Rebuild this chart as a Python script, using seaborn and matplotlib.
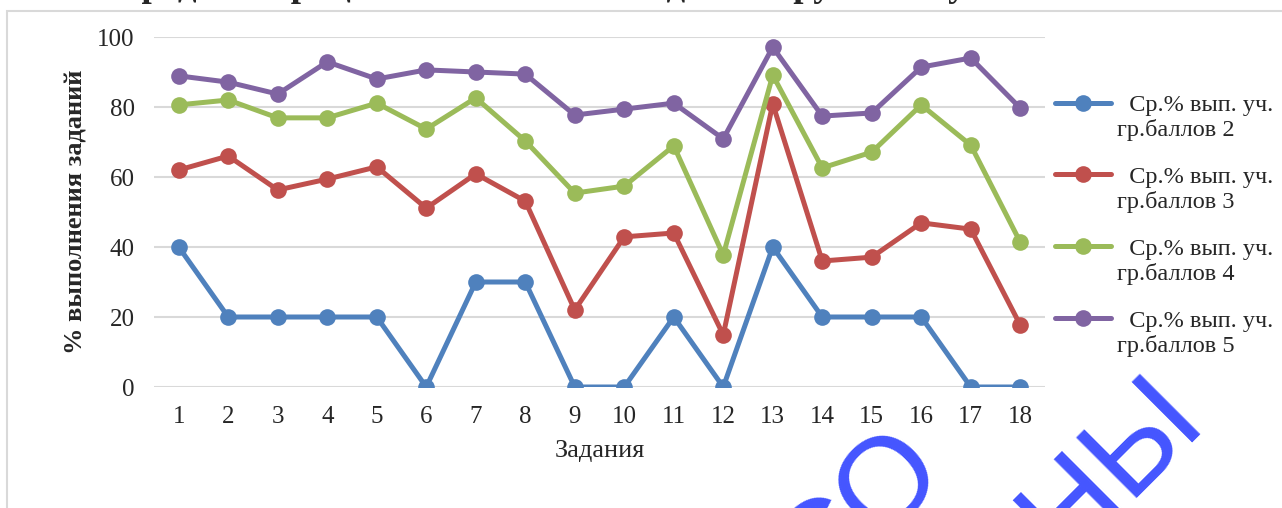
import numpy as np
import pandas as pd
import seaborn as sns
from matplotlib import pyplot as plt
from matplotlib.patches import Rectangle
from matplotlib.legend_handler import HandlerLine2D

# data
tasks = list(range(1, 19))
series_names = ["  Ср.% вып. уч.\nгр.баллов 2",
                "  Ср.% вып. уч.\nгр.баллов 3",
                "  Ср.% вып. уч.\nгр.баллов 4",
                "  Ср.% вып. уч.\nгр.баллов 5"]
score2 = [40, 20, 20, 20, 20, 0, 30, 30, 0, 0, 20, 0, 40, 20, 20, 20, 0, 0]
score3 = [62.0, 66.0, 56.3, 59.4, 62.9, 51.1, 60.9, 53.1, 22.0, 42.9, 44.0, 14.9,
          80.9, 36.0, 37.1, 46.9, 45.1, 17.7]
score4 = [80.6, 82.0, 76.9, 76.9, 81.1, 73.7, 82.6, 70.3, 55.4, 57.4, 68.9, 37.7,
          89.1, 62.6, 67.1, 80.6, 69.1, 41.4]
score5 = [88.9, 87.1, 83.7, 92.9, 88.0, 90.6, 90.0, 89.4, 77.7, 79.4, 81.1, 70.9,
          97.1, 77.4, 78.3, 91.4, 94.0, 79.7]
colors = ["#4F81BD", "#C0504D", "#9BBB59", "#8064A2"]

title = "Средний процент выполнения заданий группами участников"

df = pd.DataFrame({
    "Задания": tasks * 4,
    "value": score2 + score3 + score4 + score5,
    "series": np.repeat(series_names, len(tasks)),
})

sns.set_style("white")
plt.rcParams["font.family"] = ["Liberation Serif", "DejaVu Serif"]

fig = plt.figure(figsize=(12.82, 5.08), dpi=100)
ax = fig.add_axes([154 / 1282, 1 - 387 / 508, 891 / 1282, 350 / 508])

sns.lineplot(data=df, x="Задания", y="value", hue="series", palette=colors,
             marker="o", markersize=12, markeredgewidth=0, linewidth=3.6, ax=ax)

ax.set_xlim(0.5, 18.5)
ax.set_ylim(0, 100)
ax.set_xticks(tasks)
ax.set_yticks([0, 20, 40, 60, 80, 100])
ax.grid(axis="y", color="#D9D9D9", linewidth=1.5)
ax.set_axisbelow(True)
for s in ax.spines.values():
    s.set_visible(False)
ax.tick_params(axis="both", length=0, labelsize=18, pad=14)
ax.set_xlabel("Задания", fontsize=19, labelpad=8)
ax.set_ylabel("% выполнения заданий", fontsize=19, fontweight="bold")
ax.yaxis.set_label_coords(-0.075, 0.5)


# excel puts the marker next to the first line of a wrapped label
class TopHandler(HandlerLine2D):
    def create_artists(self, legend, orig_handle, xdescent, ydescent, width, height, fontsize, trans):
        return super().create_artists(legend, orig_handle, xdescent, ydescent - 1.25 * fontsize,
                                      width, height, fontsize, trans)


handles, labels = ax.get_legend_handles_labels()
leg = ax.legend(handles, labels, loc="upper left", bbox_to_anchor=(1055 / 1282, 1 - 95 / 508),
                bbox_transform=fig.transFigure, frameon=False, fontsize=17.5,
                handlelength=2.3, handletextpad=0.25, labelspacing=1.05,
                borderpad=0, borderaxespad=0,
                handler_map={h: TopHandler() for h in handles})

# chart area border (only left and top edges are visible)
fig.patches.append(Rectangle((7 / 1282, -0.1), 1.2, 1.1 - 11 / 508, transform=fig.transFigure,
                             fill=False, edgecolor="#D9D9D9", linewidth=1.5))

# title, mostly cut off at top (only descenders show)
fig.text(628 / 1282, 1.008, title, ha="center", va="baseline", fontsize=26.5, fontweight="bold")

# watermark
fig.text(860 / 1282, 1 - 514 / 508, "СО", rotation=45, rotation_mode="anchor", ha="center",
         va="center", fontsize=90, color="#4455FF", family=["Liberation Sans", "DejaVu Sans"])
fig.text(1112 / 1282, 1 - 467 / 508, "НЫ", rotation=45, rotation_mode="anchor", ha="center",
         va="center", fontsize=90, color="#4455FF", family=["Liberation Sans", "DejaVu Sans"])

plt.savefig("out.png", dpi=100)
